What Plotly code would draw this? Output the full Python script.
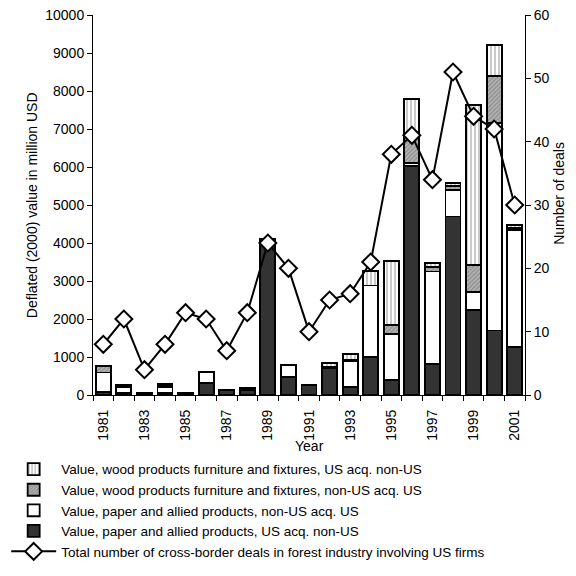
import plotly.graph_objects as go

years = list(range(1981, 2002))

paper_us_acq_nonus = [80, 60, 50, 50, 50, 310, 130, 120, 4100, 480, 260, 710, 220, 1010, 400, 6020, 810, 4700, 2240, 1700, 1270]
paper_nonus_acq_us = [510, 150, 0, 160, 0, 300, 0, 30, 0, 320, 0, 0, 660, 1870, 1200, 80, 2440, 690, 480, 5450, 3070]
wood_nonus_acq_us = [180, 40, 0, 30, 0, 0, 0, 50, 0, 0, 0, 40, 40, 0, 250, 750, 110, 100, 700, 1250, 60]
wood_us_acq_nonus = [0, 20, 0, 40, 0, 0, 0, 0, 0, 0, 0, 100, 150, 380, 1680, 950, 110, 90, 4210, 810, 80]
deals = [8, 12, 4, 8, 13, 12, 7, 13, 24, 20, 10, 15, 16, 21, 38, 41, 34, 51, 44, 42, 30]

label_years = [1981, 1983, 1985, 1987, 1989, 1991, 1993, 1995, 1997, 1999, 2001]

FONT = "Liberation Sans, Arial, sans-serif"
BW = 0.73
LINE = dict(color="black", width=1.8)

fig = go.Figure()
fig.add_trace(go.Bar(
    x=years, y=paper_us_acq_nonus, width=BW,
    name="Value, paper and allied products, US acq. non-US",
    marker=dict(color="#333333", line=LINE), legendrank=4))
fig.add_trace(go.Bar(
    x=years, y=paper_nonus_acq_us, width=BW,
    name="Value, paper and allied products, non-US acq. US",
    marker=dict(color="white", line=LINE), legendrank=3))
fig.add_trace(go.Bar(
    x=years, y=wood_nonus_acq_us, width=BW,
    name="Value, wood products furniture and fixtures, non-US acq. US",
    marker=dict(color="#a0a0a0", line=LINE,
                pattern=dict(shape="/", fgcolor="#6a6a6a", bgcolor="#b4b4b4", size=3, solidity=0.45)),
    legendrank=2))
fig.add_trace(go.Bar(
    x=years, y=wood_us_acq_nonus, width=BW,
    name="Value, wood products furniture and fixtures, US acq. non-US",
    marker=dict(color="white", line=LINE,
                pattern=dict(shape="|", fgcolor="#8a8a8a", bgcolor="white", size=4, solidity=0.45)),
    legendrank=1))
fig.add_trace(go.Scatter(
    x=years, y=deals, yaxis="y2", mode="lines+markers",
    name="Total number of cross-border deals in forest industry involving US firms",
    line=dict(color="black", width=2),
    marker=dict(symbol="diamond", size=13, color="white", line=dict(color="black", width=2)),
    legendrank=5))

fig.update_layout(
    width=568, height=568,
    margin=dict(l=85, r=51, t=7, b=181, autoexpand=False),
    paper_bgcolor="white", plot_bgcolor="white",
    barmode="stack", bargap=0.27,
    font=dict(family=FONT, size=14, color="black"),
    showlegend=True,
    legend=dict(x=-0.201, y=-0.155, xanchor="left", yanchor="top",
                orientation="v", itemwidth=45, tracegroupgap=0, traceorder="normal",
                font=dict(family=FONT, size=13.5, color="black"),
                bgcolor="rgba(0,0,0,0)"),
    xaxis=dict(range=[1980.5, 2001.5], tickmode="array", tickvals=label_years,
               ticktext=[str(v) for v in label_years], tickangle=-90,
               ticks="outside", ticklen=5, tickcolor="rgba(0,0,0,0)", ticklabelstandoff=3,
               showline=True, linecolor="black", linewidth=1, showgrid=False, zeroline=False,
               minor=dict(ticks="outside", ticklen=5, tick0=1980.5, dtick=1, tickcolor="black", showgrid=False),
               tickfont=dict(size=14)),
    yaxis=dict(range=[0, 10000], dtick=1000, tickformat="d", ticks="outside", ticklen=5, tickcolor="black",
               showline=True, linecolor="black", linewidth=1, showgrid=False, zeroline=False,
               ticklabeloverflow="allow", tickfont=dict(size=14)),
    yaxis2=dict(range=[0, 60], dtick=10, overlaying="y", side="right", ticks="outside", ticklen=5,
                tickcolor="black", showline=True, linecolor="black", linewidth=1,
                showgrid=False, zeroline=False, ticklabeloverflow="allow", tickfont=dict(size=14)),
    annotations=[
        dict(text="Deflated (2000) value in million USD", xref="paper", yref="paper",
             x=-0.164, y=0.5, textangle=-90, showarrow=False, font=dict(size=14)),
        dict(text="Number of deals", xref="paper", yref="paper",
             x=1.1, y=0.53, textangle=-90, showarrow=False, font=dict(size=14)),
        dict(text="Year", xref="paper", yref="paper",
             x=0.5, y=-0.16, showarrow=False, font=dict(size=14)),
    ],
)

fig.write_html("out.html")
